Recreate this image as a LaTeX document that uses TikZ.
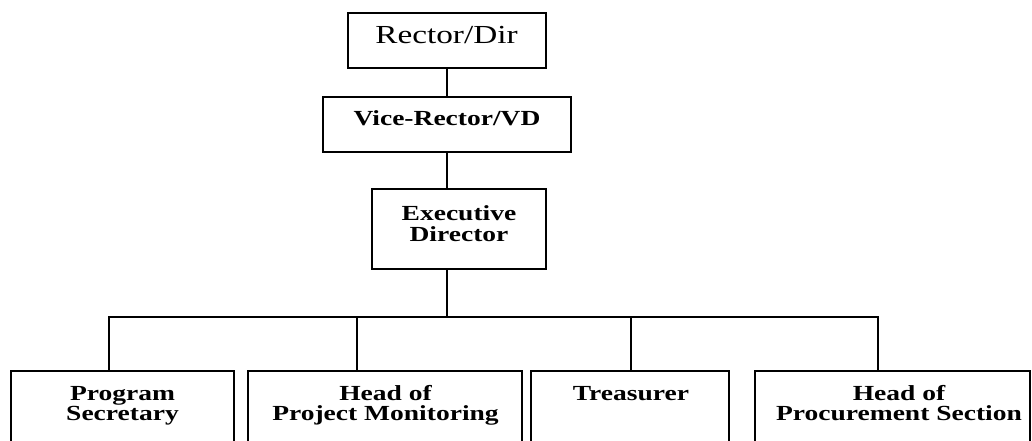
\documentclass[tikz,border=0pt]{standalone}
\usepackage{fontspec}
\setmainfont{Liberation Serif}
\newfontfamily\orgfont[FakeStretch=1.28]{Liberation Serif}
\begin{document}
\begin{tikzpicture}[x=1pt, y=-1pt, line width=2pt,
  box/.style={draw, rectangle, inner sep=0pt, outer sep=0pt, anchor=north west},
  openbox/.style={rectangle, inner sep=0pt, outer sep=0pt, anchor=north west},
  titletext/.style={font=\orgfont\fontsize{26}{30}\selectfont, anchor=base, inner sep=0pt},
  roletext/.style={font=\orgfont\bfseries\fontsize{21.5}{21.5}\selectfont, align=center, anchor=base, inner sep=0pt},
  unittext/.style={font=\orgfont\bfseries\fontsize{21.5}{20}\selectfont, align=center, anchor=base, inner sep=0pt}]

\useasboundingbox (0,0) rectangle (1032,441);

% upper chain of command
\node[box, minimum width=198pt, minimum height=55pt] (rector) at (348,13) {};
\node[box, minimum width=248pt, minimum height=55pt] (vice) at (323,97) {};
\node[box, minimum width=174pt, minimum height=80pt] (exec) at (372,189) {};

% units, open at the bottom
\node[openbox, minimum width=223pt, minimum height=72pt] (prog) at (11,371) {};
\node[openbox, minimum width=274pt, minimum height=72pt] (monit) at (248,371) {};
\node[openbox, minimum width=198pt, minimum height=72pt] (treas) at (531,371) {};
\node[openbox, minimum width=275pt, minimum height=72pt] (procu) at (755,371) {};
\foreach \b in {prog, monit, treas, procu}
  \draw (\b.south west) |- (\b.north east) -- (\b.south east);

% texts (base = baseline of the last line)
\node[titletext] (rectortext) at (446.5,44) {Rector/Dir};
\node[roletext] (vicetext) at (447,125) {Vice-Rector/VD};
\node[roletext] (exectext) at (459,241.5) {Executive\\Director};
\node[unittext] (progtext) at (122.5,420) {Program\\Secretary};
\node[unittext] (monittext) at (385.5,420) {Head of\\Project Monitoring};
\node[unittext] (treastext) at (631,400) {Treasurer};
\node[unittext] (procutext) at (899,420) {Head of\\Procurement Section};

% connectors
\draw (rector.south) -- (vice.north);
\draw (vice.south) -- (vice.south |- exec.north);
\coordinate (hub) at (447,317);
\draw (vice.south |- exec.south) -- (hub);
\coordinate (d1) at (109,317);
\coordinate (d2) at (357,317);
\coordinate (d3) at (631,317);
\coordinate (d4) at (878,317);
\draw (d1 |- prog.north) -- (d1) -- (d4) -- (d4 |- procu.north);
\draw (d2) -- (d2 |- monit.north);
\draw (d3) -- (d3 |- treas.north);
\end{tikzpicture}
\end{document}
